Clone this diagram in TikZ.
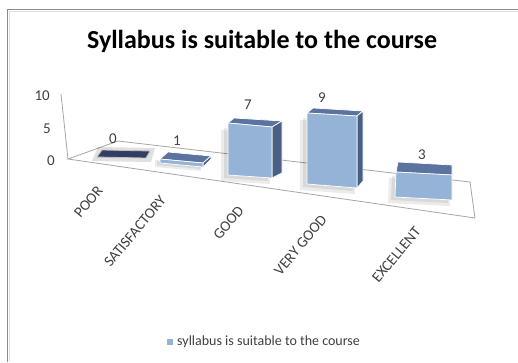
\documentclass[tikz,border=0pt]{standalone}
\usepackage{fontspec}
\setmainfont{Carlito}
\definecolor{fronc}{HTML}{95B3D7}
\definecolor{topc}{HTML}{5B739F}
\definecolor{sidec}{HTML}{4A5F86}
\definecolor{zeroc}{HTML}{2F3E62}
\definecolor{framec}{HTML}{8C8C8C}
\definecolor{txtc}{HTML}{404040}
\tikzset{
  face/.style={draw=white,line width=0.7pt,line join=round},
  shade1/.style={fill=black,opacity=0.08},
  floorline/.style={draw=gray!70,line width=0.8pt},
  vlab/.style={font=\fontsize{15}{17}\selectfont,text=txtc,inner sep=0pt},
  catlab/.style={font=\fontsize{15}{17}\selectfont,text=txtc,rotate=50,anchor=east,inner sep=0pt},
}
\begin{document}
\begin{tikzpicture}[x=1pt,y=-1pt]
\path[use as bounding box,fill=white] (0,0) rectangle (518,362);
% frame
\draw[framec,line width=1.6pt] (7.5,362) -- (7.5,9.5) -- (518,9.5);
\draw[gray!25,line width=1pt] (9.5,362) -- (9.5,11.5) -- (518,11.5);
% title
\node[font=\bfseries\fontsize{26}{30}\selectfont,inner sep=0pt] (title) at (262,41) {Syllabus is suitable to the course};
% axis
\coordinate (axtop) at (61,94);
\coordinate (A) at (68,159);
\coordinate (B) at (118,141);
\coordinate (C) at (470,182);
\coordinate (D) at (475,218);
\draw[floorline] (axtop) -- (A);
\draw[floorline] (A) -- (B) -- (C) -- (D) -- cycle;
\node[vlab,anchor=east] (t10) at (50,96) {10};
\node[vlab,anchor=east] (t5) at (51,129) {5};
\node[vlab,anchor=east] (t0) at (55,161) {0};
% bar 0
\fill[black,opacity=0.12] (98,147) -- (155,148) -- (151,162) -- (92,161) -- cycle;
\fill[zeroc,draw=gray!50,line width=0.8pt] (102,150) -- (150,151) -- (146,158) -- (97,157) -- cycle;
\node[vlab] (v0) at (113,139) {0};
% bar 1
\fill[shade1] (155,160) -- (201,164) -- (201,171) -- (155,167) -- cycle;
\fill[shade1] (157,161) -- (200,165) -- (200,169) -- (157,165) -- cycle;
\filldraw[face,fill=topc] (160,159) -- (203,163) -- (211,156) -- (168,152) -- cycle;
\filldraw[face,fill=sidec] (203,163) -- (211,156) -- (211,159) -- (203,167) -- cycle;
\filldraw[face,fill=fronc] (160,159) -- (203,163) -- (203,167) -- (160,163) -- cycle;
\node[vlab] (v1) at (177,141) {1};
% bar 7
\fill[shade1] (221,130) -- (268,134) -- (270,184) -- (221,181) -- cycle;
\fill[shade1] (224,128) -- (268,132) -- (268,181) -- (224,178) -- cycle;
\filldraw[face,fill=topc] (228,123) -- (272,127) -- (282,121) -- (234,118) -- cycle;
\filldraw[face,fill=sidec] (272,127) -- (282,121) -- (282,173) -- (272,178) -- cycle;
\filldraw[face,fill=fronc] (228,123) -- (272,127) -- (272,178) -- (228,175) -- cycle;
\node[vlab] (v7) at (248,105) {7};
% bar 9
\fill[shade1] (300,120) -- (353,123) -- (355,194) -- (300,190) -- cycle;
\fill[shade1] (303,118) -- (353,121) -- (353,191) -- (303,187) -- cycle;
\filldraw[face,fill=topc] (307,113) -- (357,116) -- (363,111) -- (313,108) -- cycle;
\filldraw[face,fill=sidec] (357,116) -- (363,111) -- (363,181) -- (357,188) -- cycle;
\filldraw[face,fill=fronc] (307,113) -- (357,116) -- (357,188) -- (307,184) -- cycle;
\node[vlab] (v9) at (322,98) {9};
% bar 3
\fill[shade1] (389,178) -- (448,181) -- (450,206) -- (388,203) -- cycle;
\fill[shade1] (392,176) -- (448,179) -- (448,203) -- (391,200) -- cycle;
\filldraw[face,fill=topc] (396,172) -- (452,175) -- (452,165) -- (398,162) -- cycle;
\filldraw[face,fill=fronc] (396,172) -- (452,175) -- (452,200) -- (395,197) -- cycle;
\node[vlab] (v3) at (422,155) {3};
% category labels
\node[catlab] (c1) at (100,188) {POOR};
\node[catlab] (c2) at (163,198) {SATISFACTORY};
\node[catlab] (c3) at (241,208) {GOOD};
\node[catlab] (c4) at (324,217) {VERY GOOD};
\node[catlab] (c5) at (418,229) {EXCELLENT};
% legend
\fill[fronc] (167,338.5) rectangle (173,344.5) coordinate (legbox);
\node[anchor=west,inner sep=0pt,font=\fontsize{14}{16}\selectfont,text=txtc] (leg) at (177,342) {syllabus is suitable to the course};
\end{tikzpicture}
\end{document}
